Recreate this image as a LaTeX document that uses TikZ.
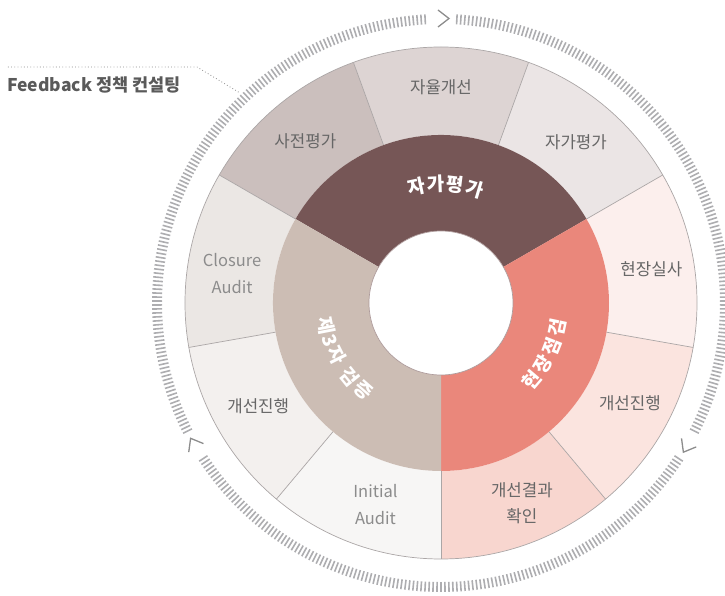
\documentclass[tikz,border=0pt]{standalone}
\usepackage{fontspec}
\setmainfont{Noto Sans CJK KR}
\definecolor{cA}{HTML}{765656}
\definecolor{cB}{HTML}{EA877B}
\definecolor{cC}{HTML}{CCBDB4}
\definecolor{o1}{HTML}{CBBFBD}
\definecolor{o2}{HTML}{DDD4D3}
\definecolor{o3}{HTML}{EBE5E5}
\definecolor{o4}{HTML}{FCEFED}
\definecolor{o5}{HTML}{FBE4DF}
\definecolor{o6}{HTML}{F8D6CF}
\definecolor{o7}{HTML}{F7F6F5}
\definecolor{o8}{HTML}{F3F0EE}
\definecolor{o9}{HTML}{EBE7E4}
\definecolor{edge}{HTML}{ABA6A6}
\definecolor{tickc}{HTML}{ADADB0}
\definecolor{txt}{HTML}{666666}
\definecolor{ltxt}{HTML}{8C8C8C}
\definecolor{head}{HTML}{5A5A5A}
\begin{document}
\begin{tikzpicture}[
  outlbl/.style={text=txt, font=\fontsize{16.8}{26}\selectfont, align=center, inner sep=0pt},
  latlbl/.style={text=ltxt, font=\fontsize{16.5}{27}\selectfont, align=center, inner sep=0pt},
  midtxt/.style={text=white, font=\fontsize{19}{19}\selectfont\bfseries, inner sep=0pt},
  tickline/.style={draw=tickc, line width=1.6pt},
  chev/.style={draw=ltxt, line width=1.3pt},
  seg/.style={draw=edge, line width=0.7pt}
]
\useasboundingbox (-441pt,-293pt) rectangle (284pt,303pt);
% outer segments
\foreach \s/\col in {110/o1, 70/o2, 30/o3, -10/o4, -50/o5, -90/o6, -130/o7, -170/o8, 150/o9}{
  \pgfmathsetmacro\e{\s+40}
  \fill[\col] (\s:168pt) -- (\s:256pt) arc[start angle=\s, end angle=\e, radius=256pt]
     -- (\e:168pt) arc[start angle=\e, end angle=\s, radius=168pt] -- cycle;
}
\foreach \s in {110, 70, 30, -10, -50, -90, -130, -170, 150}{
  \draw[seg] (\s:168pt) -- (\s:256pt);
}
\draw[seg] (0,0) circle[radius=256pt];
% middle ring
\fill[cA] (30:72pt) -- (30:168pt) arc[start angle=30, end angle=150, radius=168pt] -- (150:72pt) arc[start angle=150, end angle=30, radius=72pt] -- cycle;
\fill[cB] (-90:72pt) -- (-90:168pt) arc[start angle=-90, end angle=30, radius=168pt] -- (30:72pt) arc[start angle=30, end angle=-90, radius=72pt] -- cycle;
\fill[cC] (150:72pt) -- (150:168pt) arc[start angle=150, end angle=270, radius=168pt] -- (270:72pt) arc[start angle=270, end angle=150, radius=72pt] -- cycle;
\draw[draw=cA!60, line width=0.7pt, fill=white] (0,0) circle[radius=72pt];
% tick ring
\foreach \b in {90,210,330}{
  \foreach \i in {4,...,146}{
    \pgfmathsetmacro\a{\b+0.8*\i}
    \draw[tickline] (\a:279pt) -- (\a:289pt);
  }
  \begin{scope}[shift={(\b:284.5pt)}, rotate=\b-90]
    \draw[chev] (-3pt,8.5pt) -- (8pt,0pt) -- (-3pt,-8.5pt);
  \end{scope}
}
% outer labels
\node[outlbl] (l1) at (130:211pt) {사전평가};
\node[outlbl] (l2) at (90:216pt) {자율개선};
\node[outlbl] (l3) at (50:210pt) {자가평가};
\node[outlbl] (l4) at (9:213pt) {현장실사};
\node[outlbl] (l5) at (-28:214pt) {개선진행};
\node[outlbl] (l6) at (-68:216pt) {개선결과\\확인};
\node[latlbl] (l7) at (-108:212pt) {Initial\\Audit};
\node[outlbl] (l8) at (209.5:210pt) {개선진행};
\node[latlbl] (l9) at (172:211pt) {Closure\\Audit};
% middle labels (set along the arcs)
\foreach \c/\a [count=\k] in {자/102, 가/92.5, 평/83, 가/73.5}{
  \node[midtxt, rotate=\a-90] (ma\k) at (\a:119pt) {\c};
}
\foreach \c/\a [count=\k] in {현/-40.5, 장/-31, 점/-21.5, 검/-12}{
  \node[midtxt, rotate=\a+90] (mb\k) at (\a:119pt) {\c};
}
\foreach \c/\a [count=\k] in {제/191, 3/199, 자/206.5, 검/219, 증/228.5}{
  \node[midtxt, rotate=\a+90] (mc\k) at (\a:117pt) {\c};
}
% feedback label
\node[text=head, font=\fontsize{17.5}{19}\selectfont\bfseries, anchor=west, inner sep=0pt] (fb) at (-434pt,218pt) {Feedback 정책 컨설팅};
\coordinate (d1) at (-433pt,236pt);
\coordinate (d2) at (-244pt,236pt);
\coordinate (d3) at (-201pt,210pt);
\draw[draw=ltxt, line width=0.8pt, dash pattern=on 0.8pt off 2.4pt] (d1) -- (d2) -- (d3);
\end{tikzpicture}
\end{document}
